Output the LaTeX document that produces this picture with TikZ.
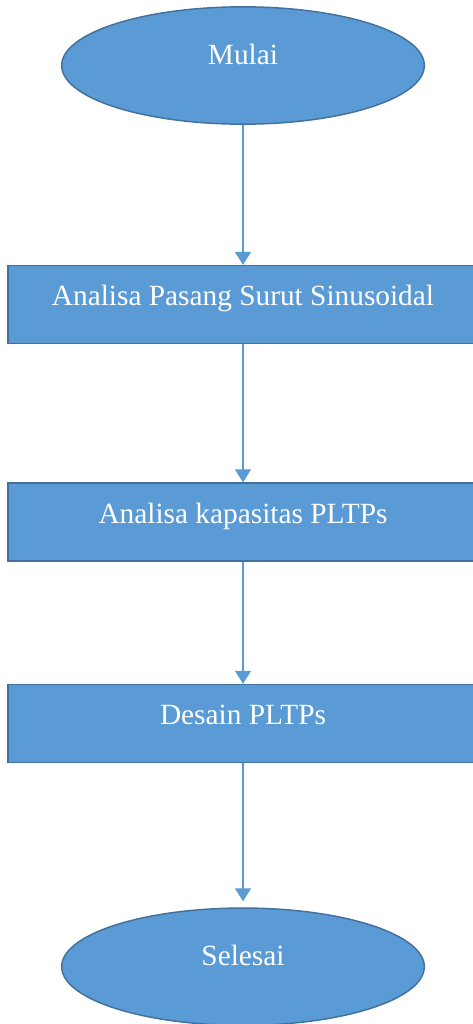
\documentclass[tikz,border=0pt]{standalone}
\usepackage{fontspec}
\setmainfont{Liberation Serif}
\usepackage{tikz}
\usetikzlibrary{arrows.meta,positioning,shapes.geometric}
\definecolor{fillblue}{HTML}{5B9BD5}
\definecolor{edgeblue}{HTML}{41719C}
\definecolor{linkblue}{HTML}{5B9BD5}
\tikzset{
  box/.style={draw=edgeblue,line width=1.1pt,fill=fillblue,text=white,
    font=\fontsize{22}{26}\selectfont,inner sep=0pt,
    minimum width=352.5pt,minimum height=58.5pt,
    text height=15pt,text depth=13pt},
  term/.style={box,ellipse,minimum width=272pt,minimum height=88pt,
    text depth=17pt},
  flow/.style={-{Triangle[length=9.75pt,width=12pt]},line width=0.8pt,draw=linkblue},
}
\begin{document}
\begin{tikzpicture}[x=0.75pt,y=-0.75pt]
  \useasboundingbox (0,0) rectangle (473,1024);
  \node[term] (mulai) at (243,65.5) {Mulai};
  \node[box,below=105pt of mulai] (pasut) {Analisa Pasang Surut Sinusoidal};
  \node[box,below=103.5pt of pasut] (kapas) {Analisa kapasitas PLTPs};
  \node[box,below=91.5pt of kapas] (desain) {Desain PLTPs};
  \node[term,below=108pt of desain] (selesai) {Selesai};
  \foreach \a/\b in {mulai/pasut,pasut/kapas,kapas/desain}
    \draw[flow] (\a) -- (\b);
  \draw[flow,shorten >=4.5pt] (desain) -- (selesai);
\end{tikzpicture}
\end{document}
